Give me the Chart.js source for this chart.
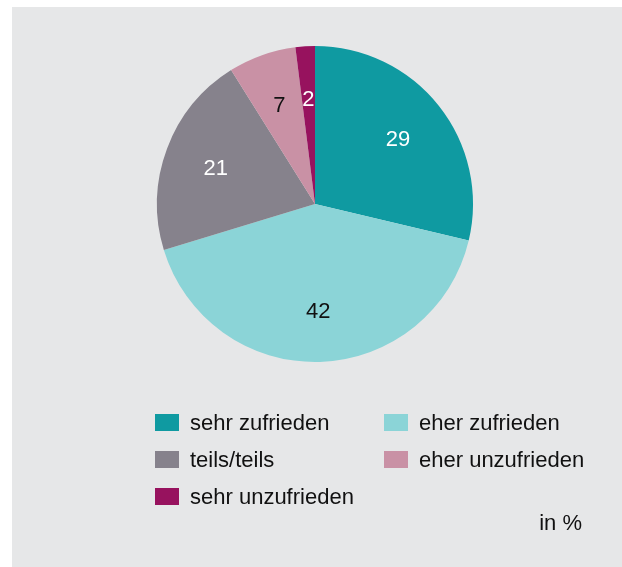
<!DOCTYPE html>
<html>
<head>
<meta charset="utf-8">
<script src="https://cdn.jsdelivr.net/npm/chart.js@4"></script>
<style>
  html, body { margin: 0; padding: 0; background: #fff; }
  canvas { display: block; }
</style>
</head>
<body>
<canvas id="pieChart" width="622" height="567"></canvas>
<script>
// data (values in %)
const categories = ['sehr zufrieden', 'eher zufrieden', 'teils/teils', 'eher unzufrieden', 'sehr unzufrieden'];
const shares = [29, 42, 21, 7, 2];
const sliceColors = ['#0F9AA1', '#8BD4D7', '#86828C', '#C991A5', '#97125E'];
const labelColors = ['#ffffff', '#111111', '#ffffff', '#111111', '#ffffff'];
const unitNote = 'in %';

const FONT = '"Liberation Sans", Arial, Helvetica, sans-serif';

// grey panel behind everything
const panelBg = {
  id: 'panelBg',
  beforeDraw(chart) {
    const ctx = chart.ctx;
    ctx.save();
    ctx.fillStyle = '#E6E7E8';
    ctx.fillRect(12, 7, chart.width - 12, chart.height - 7);
    ctx.restore();
  }
};

// numbers inside the slices
const sliceLabels = {
  id: 'sliceLabels',
  afterDatasetsDraw(chart) {
    const ctx = chart.ctx;
    const arcs = chart.getDatasetMeta(0).data;
    ctx.save();
    ctx.font = '22px ' + FONT;
    ctx.textAlign = 'center';
    ctx.textBaseline = 'middle';
    arcs.forEach((arc, i) => {
      const mid = (arc.startAngle + arc.endAngle) / 2;
      const r = arc.outerRadius * 0.67;
      ctx.fillStyle = labelColors[i];
      ctx.fillText(String(shares[i]), arc.x + Math.cos(mid) * r, arc.y + Math.sin(mid) * r + 2);
    });
    ctx.restore();
  }
};

// two-column legend + unit note
const sideLegend = {
  id: 'sideLegend',
  afterDraw(chart) {
    const ctx = chart.ctx;
    const colX = [155, 384];
    const rowBase = [430, 467, 504];
    ctx.save();
    ctx.font = '22px ' + FONT;
    ctx.textBaseline = 'alphabetic';
    ctx.textAlign = 'left';
    categories.forEach((name, i) => {
      const x = colX[i % 2];
      const y = rowBase[Math.floor(i / 2)];
      ctx.fillStyle = sliceColors[i];
      ctx.fillRect(x, y - 16, 24, 17);
      ctx.fillStyle = '#111111';
      ctx.fillText(name, x + 35, y);
    });
    ctx.textAlign = 'right';
    ctx.fillText(unitNote, 582, 530);
    ctx.restore();
  }
};

new Chart(document.getElementById('pieChart').getContext('2d'), {
  type: 'pie',
  data: {
    labels: categories,
    datasets: [{
      data: shares,
      backgroundColor: sliceColors,
      borderWidth: 0
    }]
  },
  options: {
    responsive: false,
    animation: false,
    layout: {
      padding: { left: 157, right: 149, top: 46, bottom: 205 }
    },
    plugins: {
      legend: { display: false },
      tooltip: { enabled: false }
    }
  },
  plugins: [panelBg, sliceLabels, sideLegend]
});
</script>
</body>
</html>
